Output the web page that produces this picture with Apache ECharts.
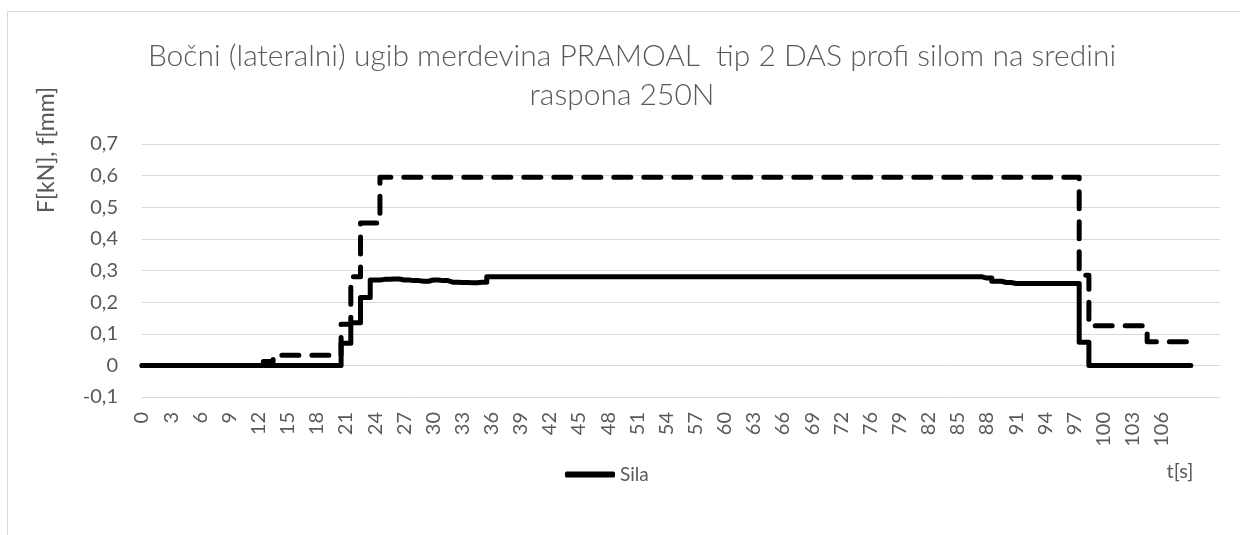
<!DOCTYPE html>
<html>
<head>
<meta charset="utf-8">
<script src="https://cdn.jsdelivr.net/npm/echarts@6/dist/echarts.min.js"></script>
<style>
    body { margin: 0; background: #fff; }
    #main { width: 1240px; height: 535px; }
</style>
</head>
<body>
<div id="main"></div>
<script type="text/javascript">
    // vrijeme t[s] (kategorije), prazno na kraju kao u tabeli
    var tSec = ['0', '1', '2', '3', '4', '5', '6', '7', '8', '9', '10', '11', '12', '13', '14', '15', '16', '17', '18', '19',
        '20', '21', '22', '23', '24', '25', '26', '27', '28', '29', '30', '31', '32', '33', '34', '35', '36', '37', '38', '39',
        '40', '41', '42', '43', '44', '45', '46', '47', '48', '49', '50', '51', '52', '53', '54', '55', '56', '57', '58', '59',
        '60', '61', '62', '63', '64', '65', '66', '67', '68', '69', '70', '71', '72', '73', '75', '76', '77', '78', '79', '80',
        '81', '82', '83', '84', '85', '86', '87', '88', '89', '90', '91', '92', '93', '94', '95', '96', '97', '98', '99', '100',
        '101', '102', '103', '104', '105', '106', '', '', '', '', '', ''];

    // sila F[kN]
    var sila = [0, 0, 0, 0, 0, 0, 0, 0, 0, 0, 0, 0, 0, 0, 0, 0, 0, 0, 0, 0,
        0, 0.07, 0.135, 0.215, 0.27, 0.272, 0.273, 0.27, 0.268, 0.266, 0.27, 0.268, 0.263, 0.262, 0.261, 0.263,
        0.28, 0.28, 0.28, 0.28, 0.28, 0.28, 0.28, 0.28, 0.28, 0.28, 0.28, 0.28, 0.28, 0.28, 0.28, 0.28, 0.28,
        0.28, 0.28, 0.28, 0.28, 0.28, 0.28, 0.28, 0.28, 0.28, 0.28, 0.28, 0.28, 0.28, 0.28, 0.28, 0.28, 0.28,
        0.28, 0.28, 0.28, 0.28, 0.28, 0.28, 0.28, 0.28, 0.28, 0.28, 0.28, 0.28, 0.28, 0.28, 0.28, 0.28, 0.28,
        0.276, 0.266, 0.262, 0.259, 0.259, 0.259, 0.259, 0.259, 0.259, 0.259,
        0.073, 0, 0, 0, 0, 0, 0, 0, 0, 0, 0, 0];

    // ugib f[mm]
    var ugib = [0, 0, 0, 0, 0, 0, 0, 0, 0, 0, 0, 0, 0,
        0.012, 0.032, 0.032, 0.032, 0.032, 0.032, 0.032, 0.032,
        0.13, 0.28, 0.45, 0.45,
        0.595, 0.595, 0.595, 0.595, 0.595, 0.595, 0.595, 0.595, 0.595, 0.595, 0.595, 0.595,
        0.595, 0.595, 0.595, 0.595, 0.595, 0.595, 0.595, 0.595, 0.595, 0.595, 0.595, 0.595,
        0.595, 0.595, 0.595, 0.595, 0.595, 0.595, 0.595, 0.595, 0.595, 0.595, 0.595, 0.595,
        0.595, 0.595, 0.595, 0.595, 0.595, 0.595, 0.595, 0.595, 0.595, 0.595, 0.595, 0.595,
        0.595, 0.595, 0.595, 0.595, 0.595, 0.595, 0.595, 0.595, 0.595, 0.595, 0.595, 0.595,
        0.595, 0.595, 0.595, 0.595, 0.595, 0.595, 0.595, 0.595, 0.595, 0.595, 0.595, 0.595,
        0.285, 0.125, 0.125, 0.125, 0.125, 0.125, 0.125, 0.075, 0.075, 0.075, 0.075, 0.075];

    var naslov1 = 'Bočni (lateralni) ugib merdevina PRAMOAL  tip 2 DAS profi silom na sredini';
    var naslov2 = 'raspona 250N';

    var font = 'Lato, "Open Sans", sans-serif';
    var sivo = '#595959';

    var myChart = echarts.init(document.getElementById('main'));
    var option = {
        animation: false,
        backgroundColor: '#fff',
        textStyle: { fontFamily: font },
        grid: { left: 142, right: 20, top: 144, bottom: 138 },
        legend: {
            data: ['Sila'],
            icon: 'roundRect',
            left: 560,
            top: 460,
            itemWidth: 50,
            itemHeight: 6,
            itemStyle: { color: '#000' },
            textStyle: { fontSize: 19, color: sivo, fontFamily: font }
        },
        xAxis: {
            type: 'category',
            data: tSec,
            boundaryGap: false,
            axisLine: { onZero: true, lineStyle: { color: '#d9d9d9' } },
            axisTick: { show: false },
            splitLine: { show: false },
            axisLabel: {
                interval: 2,
                rotate: 90,
                margin: 15,
                fontSize: 20,
                color: sivo,
                fontFamily: font
            }
        },
        yAxis: {
            type: 'value',
            min: -0.1,
            max: 0.7,
            interval: 0.1,
            axisLine: { show: false },
            axisTick: { show: false },
            splitLine: { lineStyle: { color: '#d9d9d9', width: 1 } },
            axisLabel: {
                margin: 24,
                fontSize: 20,
                color: sivo,
                fontFamily: font,
                formatter: function (v) {
                    return String(Math.round(v * 10) / 10).replace('.', ',');
                }
            }
        },
        series: [
            {
                name: 'Sila',
                type: 'line',
                data: sila,
                step: 'middle',
                showSymbol: false,
                symbol: 'none',
                color: '#000',
                lineStyle: { color: '#000', width: 5, cap: 'round', join: 'round' }
            },
            {
                name: 'Ugib',
                type: 'line',
                data: ugib,
                step: 'middle',
                showSymbol: false,
                symbol: 'none',
                color: '#000',
                lineStyle: { color: '#000', width: 5, type: [17, 13], cap: 'round', join: 'round' }
            }
        ],
        graphic: [
            {
                type: 'rect', silent: true, z: -10,
                shape: { x: 7.5, y: 11.5, width: 1400, height: 700 },
                style: { fill: null, stroke: '#d9d9d9', lineWidth: 1 }
            },
            {
                type: 'text', x: 632, y: 56,
                style: { text: naslov1, align: 'center', verticalAlign: 'middle', fill: sivo, font: '300 30px ' + font }
            },
            {
                type: 'text', x: 622, y: 95,
                style: { text: naslov2, align: 'center', verticalAlign: 'middle', fill: sivo, font: '300 30px ' + font }
            },
            {
                type: 'text', x: 47, y: 150, rotation: Math.PI / 2,
                style: { text: 'F[kN], f[mm]', align: 'center', verticalAlign: 'middle', fill: sivo, font: '23px ' + font }
            },
            {
                type: 'text', x: 1180, y: 472,
                style: { text: 't[s]', align: 'center', verticalAlign: 'middle', fill: sivo, font: '20px ' + font }
            }
        ]
    };
    myChart.setOption(option);
</script>
</body>
</html>
